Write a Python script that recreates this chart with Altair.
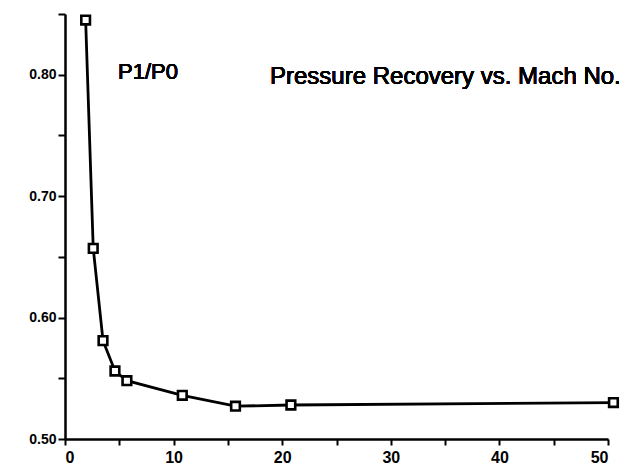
import altair as alt
import pandas as pd

mach = [1.9, 2.6, 3.5, 4.6, 5.7, 10.8, 15.7, 20.8, 50.5]
p_ratio = [0.845, 0.657, 0.581, 0.556, 0.548, 0.536, 0.527, 0.528, 0.530]
x_ticks = [0, 5, 10, 15, 20, 25, 30, 35, 40, 45, 50]
y_ticks = [0.50, 0.55, 0.60, 0.65, 0.70, 0.75, 0.80, 0.85]

df = pd.DataFrame({"mach": mach, "p": p_ratio})

FONT = "Liberation Sans"

x_axis = alt.Axis(values=x_ticks, title=None, grid=False, ticks=True,
                  labelExpr="datum.value % 10 == 0 ? datum.label : ''",
                  format="d", tickSize=6, tickWidth=2, tickColor="#000000",
                  tickOpacity=1, domainColor="#000000", domainWidth=2.5,
                  labelFont=FONT, labelFontSize=16, labelFontWeight="bold",
                  labelColor="black", labelPadding=4)
y_axis = alt.Axis(values=y_ticks, title=None, grid=False, ticks=True,
                  labelExpr="(round(datum.value*100) % 10 == 0) ? format(datum.value, '.2f') : ''",
                  tickSize=7, tickWidth=2, tickColor="#000000",
                  tickOpacity=1, domainColor="#000000", domainWidth=2.5,
                  labelFont=FONT, labelFontSize=14, labelFontWeight="bold",
                  labelColor="black", labelPadding=2)

x_enc = alt.X("mach:Q", scale=alt.Scale(domain=[0, 50], nice=False, zero=False), axis=x_axis)
y_enc = alt.Y("p:Q", scale=alt.Scale(domain=[0.50, 0.85], nice=False, zero=False), axis=y_axis)

line = alt.Chart(df).mark_line(color="black", strokeWidth=2.8, clip=False).encode(x=x_enc, y=y_enc)
pts = alt.Chart(df).mark_point(shape="square", size=75, filled=True, fill="white",
                               stroke="black", strokeWidth=2.6, opacity=1, clip=False).encode(
    x=x_enc, y=y_enc)

lbl1 = alt.Chart(df).mark_text(text="P1/P0", font=FONT, fontSize=22, color="black",
                               align="left", baseline="middle").encode(
    x=alt.value(53), y=alt.value(58))
lbl2 = alt.Chart(df).mark_text(text="Pressure Recovery vs. Mach No.", font=FONT, fontSize=24,
                               color="black", align="left", baseline="middle").encode(
    x=alt.value(205), y=alt.value(63))

chart = (line + pts + lbl1 + lbl2).properties(
    width=543, height=425,
    padding={"left": 65, "top": 14, "right": 20, "bottom": 32},
    autosize=alt.AutoSizeParams(type="none"),
    background="white",
).configure_view(stroke=None)

chart.save("out.html", embed_options={"renderer": "svg", "actions": False})
